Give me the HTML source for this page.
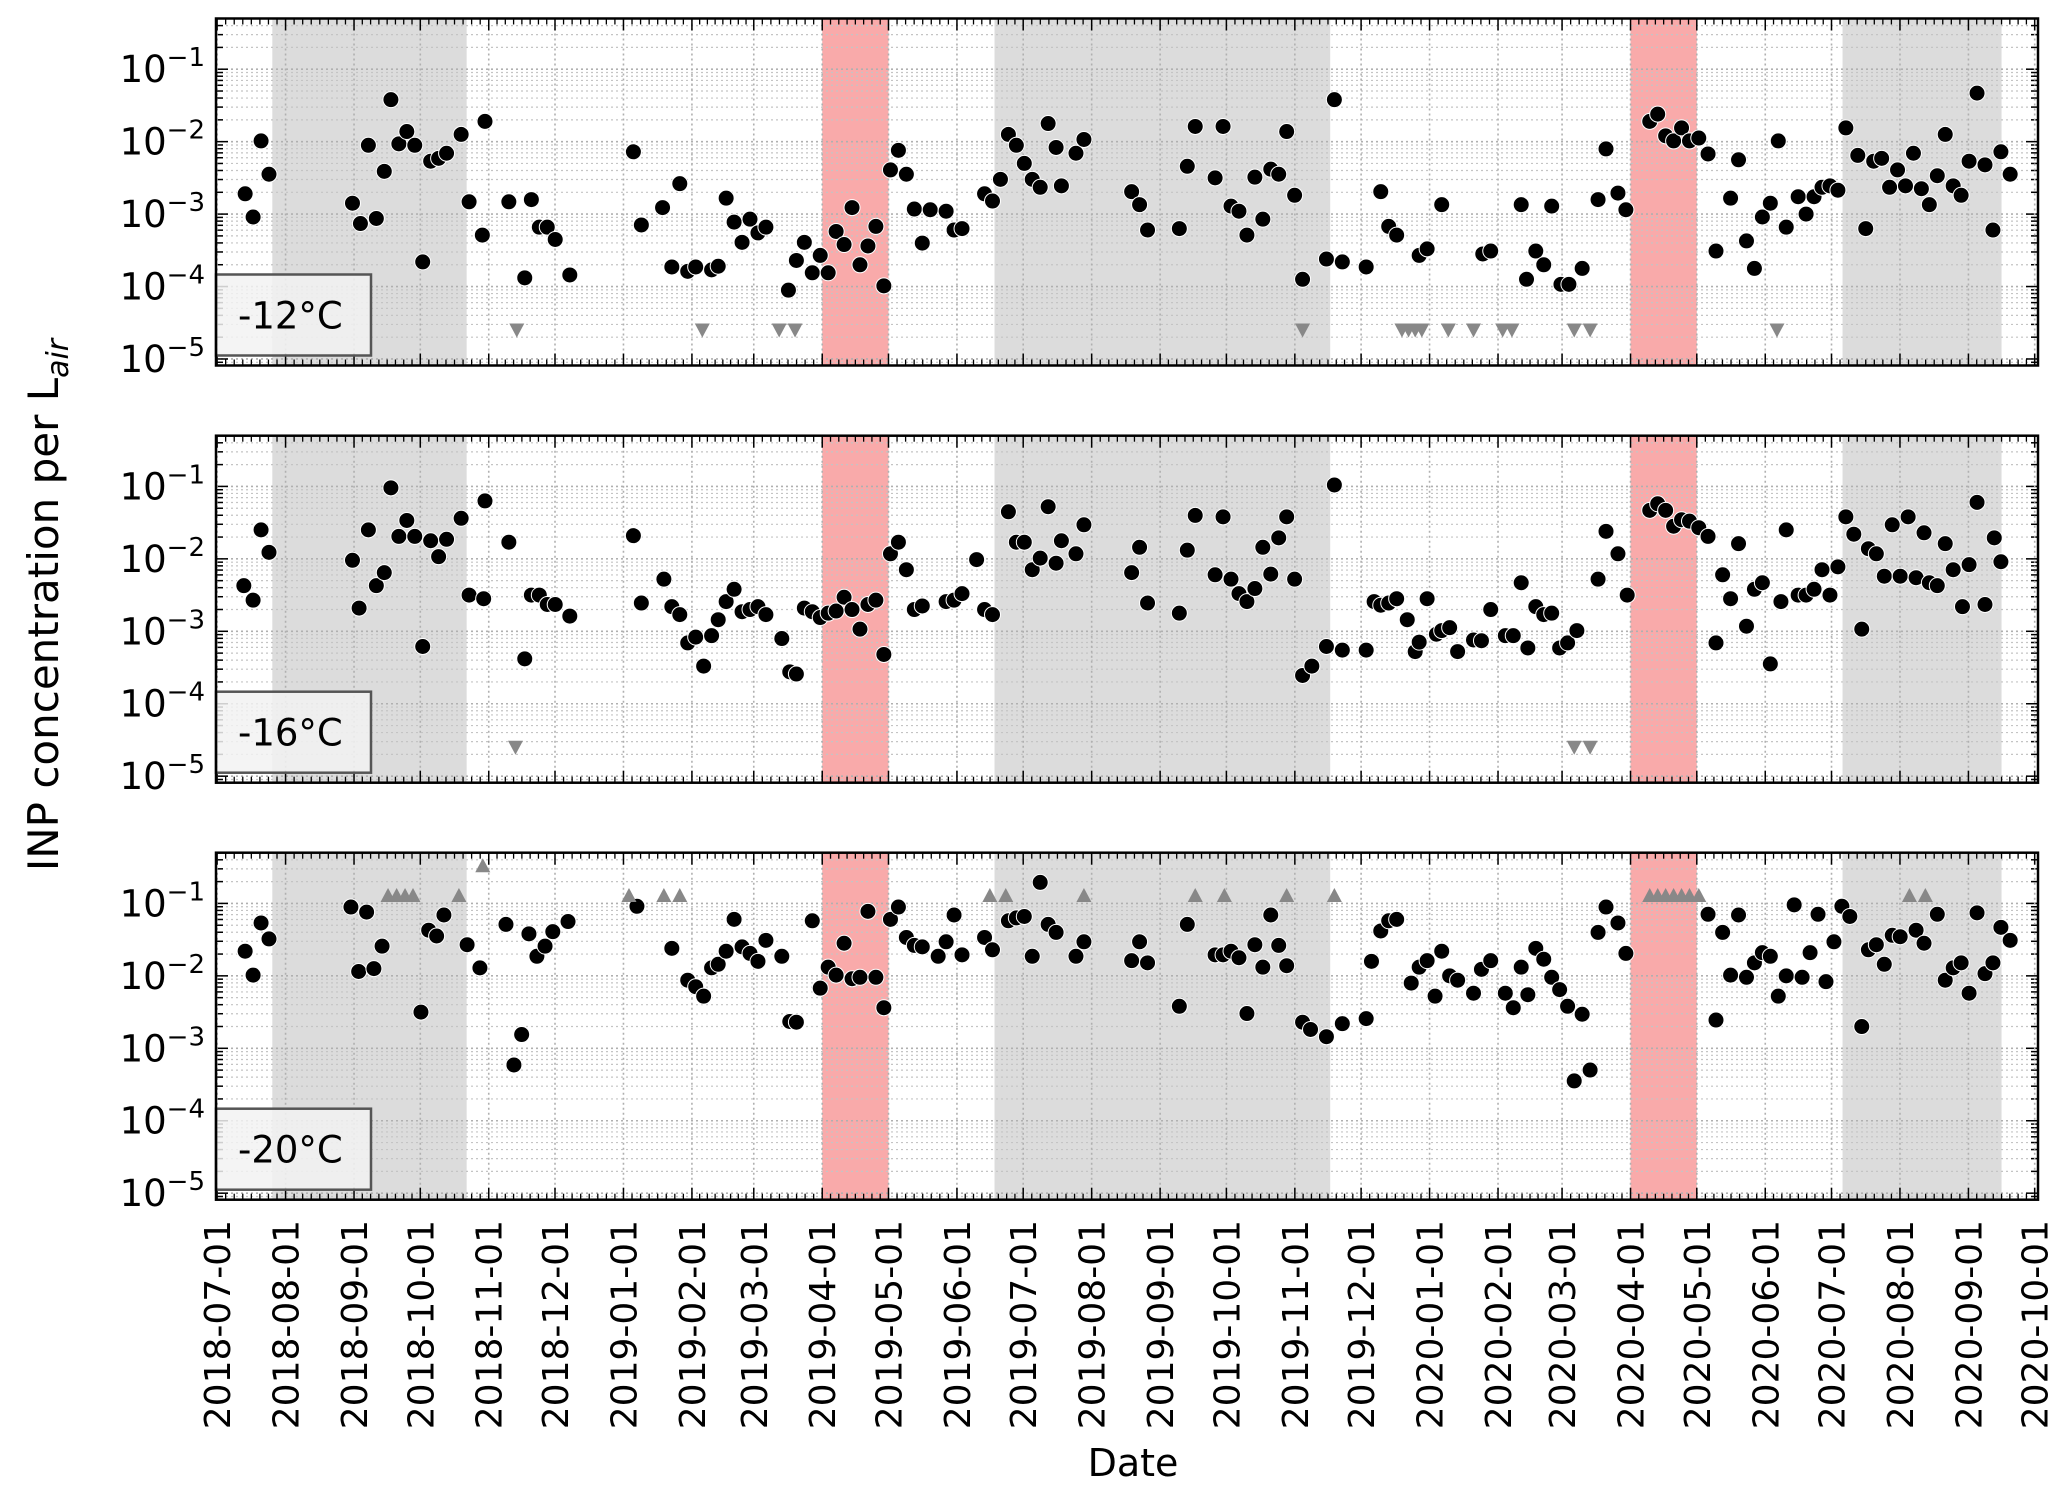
<!DOCTYPE html>
<html><head><meta charset="utf-8"><style>
html,body{margin:0;padding:0;background:#fff;}
svg{display:block;font-family:"DejaVu Sans","Liberation Sans",sans-serif;}
</style></head>
<body>
<svg id="chart" width="2067" height="1496" viewBox="0 0 2067 1496" xmlns="http://www.w3.org/2000/svg">
<text transform="translate(58,605) rotate(-90)" text-anchor="middle" font-size="42" fill="#000">INP concentration per L<tspan font-size="30" font-style="italic" dy="10">air</tspan></text>
<text x="1133" y="1476" text-anchor="middle" font-size="38" fill="#000">Date</text>
</svg>
<script>
// ---- data (days since 2018-07-01, log10 INP concentration per L air) ----
const panelLabels = ["-12°C", "-16°C", "-20°C"];
const shadeGreyStart = ["2018-07-26", "2019-06-18", "2020-07-06"];
const shadeGreyEnd = ["2018-10-22", "2019-11-17", "2020-09-16"];
const shadeRedStart = ["2019-04-01", "2020-04-01"];
const shadeRedEnd = ["2019-05-01", "2020-05-01"];
const yTickExponents = [-1, -2, -3, -4, -5];

const days12 = [12.7,16.3,19.9,23.5,61.3,64.9,68.5,72.1,75.7,78.7,82.3,85.9,89.5,93.1,96.7,100.3,103.9,110.5,114.1,121.3,120.1,132.1,139.3,142.3,145.9,149.5,153.1,159.7,188.5,192.1,201.7,205.9,209.5,213.1,216.7,223.9,226.9,230.5,234.1,237.7,241.3,244.9,248.5,258.7,262.3,265.9,269.5,273.1,276.7,280.3,283.9,287.5,291.1,294.7,298.3,301.9,304.9,308.5,312.1,315.7,319.3,322.9,330.1,333.7,337.3,347.5,351.1,354.7,358.3,361.9,365.5,369.1,372.7,376.3,379.9,382.3,388.9,392.5,414.1,417.7,421.3,435.7,439.3,442.9,451.9,455.5,459.1,462.7,466.3,469.9,473.5,477.1,480.7,484.3,487.9,491.5,502.3,505.9,509.5,520.3,526.9,530.5,534.1,544.3,547.9,554.5,573.1,576.7,590.5,592.9,597.1,600.7,604.3,608.5,612.1,618.1,625.3,628.9,634.3,637.9,648.7,652.3,655.9,659.5,663.1,666.7,670.9,675.1,678.7,685.3,688.9,692.5,696.1,699.7,703.3,706.9,710.5,715.9,719.5,723.1,726.7,730.3,733.9,737.5,742.9,746.5,750.1,753.7,757.3,760.9,764.5,768.1,771.7,775.3,778.9,782.5,786.1,789.7,793.3,796.9,800.5,804.1,807.7,811.9];
const logConc12 = [-2.72,-3.04,-1.99,-2.45,-2.85,-3.13,-2.05,-3.06,-2.41,-1.42,-2.03,-1.86,-2.05,-3.66,-2.27,-2.23,-2.16,-1.90,-2.83,-1.72,-3.29,-2.83,-3.88,-2.80,-3.18,-3.18,-3.35,-3.84,-2.14,-3.15,-2.91,-3.73,-2.58,-3.79,-3.73,-3.77,-3.72,-2.78,-3.11,-3.39,-3.07,-3.26,-3.18,-4.05,-3.64,-3.39,-3.81,-3.57,-3.81,-3.24,-3.42,-2.91,-3.70,-3.44,-3.17,-3.99,-2.39,-2.12,-2.45,-2.93,-3.40,-2.94,-2.96,-3.22,-3.20,-2.72,-2.82,-2.52,-1.90,-2.05,-2.30,-2.52,-2.63,-1.75,-2.08,-2.61,-2.16,-1.97,-2.69,-2.87,-3.22,-3.20,-2.34,-1.79,-2.50,-1.79,-2.89,-2.96,-3.29,-2.49,-3.07,-2.38,-2.45,-1.86,-2.74,-3.90,-3.62,-1.42,-3.66,-3.73,-2.69,-3.17,-3.29,-3.57,-3.48,-2.87,-3.55,-3.51,-2.87,-3.90,-3.51,-3.70,-2.89,-3.97,-3.97,-3.75,-2.80,-2.10,-2.71,-2.94,-1.72,-1.62,-1.92,-1.99,-1.81,-1.99,-1.95,-2.17,-3.51,-2.78,-2.25,-3.37,-3.75,-3.04,-2.85,-1.99,-3.18,-2.76,-3.00,-2.76,-2.63,-2.61,-2.67,-1.81,-2.19,-3.20,-2.27,-2.23,-2.63,-2.39,-2.61,-2.16,-2.65,-2.87,-2.47,-1.90,-2.61,-2.74,-2.27,-1.33,-2.32,-3.22,-2.14,-2.45];
const limDays12 = [135.7,219.7,254.5,261.7,491.5,536.5,539.5,542.5,545.5,557.5,568.9,582.1,586.3,614.5,621.7,706.3];
const limLog12 = -4.6;

const days16 = [12.1,16.3,19.9,23.5,61.3,64.3,68.5,72.1,75.7,78.7,82.3,85.9,89.5,93.1,96.7,100.3,103.9,110.5,114.1,120.7,121.3,132.1,139.3,142.3,145.9,149.5,153.1,159.7,188.5,192.1,202.3,205.9,209.5,213.1,216.7,220.3,223.9,226.9,230.5,234.1,237.7,241.3,244.9,248.5,255.7,259.3,262.3,265.9,269.5,273.1,276.7,280.3,283.9,287.5,291.1,294.7,298.3,301.9,304.9,308.5,312.1,315.7,319.3,330.1,333.7,337.3,343.9,347.5,351.1,358.3,361.9,365.5,369.1,372.7,376.3,379.9,382.3,388.9,392.5,414.1,417.7,421.3,435.7,439.3,442.9,451.9,455.5,459.1,462.7,466.3,469.9,473.5,477.1,480.7,484.3,487.9,491.5,495.7,502.3,505.9,509.5,520.3,523.9,526.9,530.5,534.1,538.9,542.5,544.3,547.9,552.1,554.5,558.1,561.7,568.9,572.5,576.7,583.3,586.9,590.5,593.5,597.1,600.7,604.3,607.9,611.5,615.7,625.3,628.9,634.3,638.5,648.7,652.3,655.9,659.5,663.1,666.7,670.9,675.1,678.7,681.7,685.3,688.9,692.5,696.1,699.7,703.3,708.1,710.5,715.9,719.5,723.1,726.7,730.3,733.9,737.5,741.1,744.7,747.7,751.3,754.9,758.5,762.1,765.7,769.3,772.9,775.3,778.9,782.5,786.1,790.3,793.3,796.9,800.5,804.7,807.7];
const logConc16 = [-2.37,-2.57,-1.60,-1.91,-2.02,-2.68,-1.60,-2.37,-2.19,-1.02,-1.69,-1.47,-1.69,-3.21,-1.75,-1.97,-1.73,-1.44,-2.50,-2.55,-1.20,-1.77,-3.38,-2.50,-2.50,-2.63,-2.63,-2.79,-1.68,-2.61,-2.28,-2.66,-2.77,-3.16,-3.08,-3.48,-3.06,-2.84,-2.59,-2.42,-2.73,-2.70,-2.66,-2.77,-3.10,-3.56,-3.59,-2.68,-2.73,-2.81,-2.75,-2.72,-2.53,-2.70,-2.97,-2.63,-2.57,-3.32,-1.93,-1.77,-2.15,-2.70,-2.65,-2.59,-2.57,-2.48,-2.01,-2.70,-2.77,-1.35,-1.77,-1.77,-2.15,-1.99,-1.28,-2.06,-1.75,-1.93,-1.53,-2.19,-1.84,-2.61,-2.75,-1.88,-1.40,-2.22,-1.42,-2.28,-2.48,-2.59,-2.41,-1.84,-2.21,-1.71,-1.42,-2.28,-3.61,-3.48,-3.21,-0.98,-3.26,-3.26,-2.59,-2.64,-2.61,-2.55,-2.84,-3.28,-3.15,-2.55,-3.04,-2.99,-2.95,-3.28,-3.12,-3.13,-2.70,-3.06,-3.06,-2.33,-3.23,-2.66,-2.77,-2.75,-3.23,-3.16,-2.99,-2.28,-1.62,-1.93,-2.50,-1.33,-1.24,-1.33,-1.55,-1.46,-1.48,-1.57,-1.69,-3.16,-2.22,-2.55,-1.79,-2.93,-2.42,-2.33,-3.45,-2.59,-1.60,-2.50,-2.50,-2.42,-2.15,-2.50,-2.11,-1.42,-1.66,-2.97,-1.86,-1.93,-2.24,-1.53,-2.24,-1.42,-2.26,-1.64,-2.33,-2.37,-1.79,-2.15,-2.66,-2.08,-1.22,-2.63,-1.71,-2.04];
const limDays16 = [135.1,614.5,621.7];
const limLog16 = -4.6;

const days20 = [12.7,16.3,19.9,23.5,60.6,64.1,67.7,71.0,74.7,92.3,95.8,99.4,102.7,113.2,119.0,130.8,134.4,137.9,141.2,144.8,148.5,152.0,158.9,190.1,205.9,213.1,216.7,220.3,223.9,226.9,230.5,234.1,237.7,241.3,244.9,248.5,255.7,259.3,262.3,269.5,273.1,276.7,280.3,283.9,287.5,291.1,294.7,298.3,301.9,304.9,308.5,312.1,315.7,319.3,326.5,330.1,333.7,337.3,347.5,351.1,358.3,361.9,365.5,369.1,372.7,376.3,379.9,388.9,392.5,414.1,417.7,421.3,435.7,439.3,451.9,455.5,459.1,462.7,466.3,469.9,473.5,477.1,480.7,484.3,491.5,495.1,502.3,509.5,520.3,522.7,526.9,530.5,534.1,540.7,544.3,547.9,551.5,554.5,558.1,561.7,568.9,572.5,576.7,583.3,586.9,590.5,593.5,597.1,600.7,604.3,607.9,611.5,614.5,618.1,621.7,625.3,628.9,634.3,637.9,675.1,678.7,681.7,685.3,688.9,692.5,696.1,699.7,703.3,706.9,710.5,714.1,717.7,721.3,724.9,728.5,732.1,735.7,739.3,744.7,747.7,751.3,754.9,758.5,762.1,769.3,772.9,778.9,782.5,786.1,789.7,793.3,796.9,800.5,804.1,807.7,811.9];
const logConc20 = [-1.66,-1.99,-1.27,-1.49,-1.05,-1.94,-1.12,-1.90,-1.59,-2.50,-1.37,-1.45,-1.16,-1.57,-1.89,-1.29,-3.23,-2.81,-1.42,-1.73,-1.59,-1.39,-1.25,-1.04,-1.62,-2.06,-2.15,-2.28,-1.89,-1.84,-1.66,-1.22,-1.60,-1.69,-1.80,-1.51,-1.73,-2.63,-2.64,-1.24,-2.17,-1.88,-1.99,-1.55,-2.04,-2.02,-1.11,-2.02,-2.44,-1.22,-1.05,-1.47,-1.58,-1.60,-1.73,-1.53,-1.16,-1.71,-1.47,-1.64,-1.24,-1.20,-1.18,-1.73,-0.71,-1.29,-1.40,-1.73,-1.53,-1.79,-1.53,-1.82,-2.42,-1.29,-1.71,-1.71,-1.66,-1.75,-2.52,-1.57,-1.88,-1.16,-1.58,-1.86,-2.64,-2.74,-2.84,-2.66,-2.59,-1.80,-1.38,-1.24,-1.22,-2.10,-1.88,-1.79,-2.28,-1.66,-2.00,-2.06,-2.24,-1.91,-1.79,-2.24,-2.44,-1.88,-2.26,-1.62,-1.77,-2.02,-2.19,-2.42,-3.45,-2.53,-3.30,-1.40,-1.05,-1.27,-1.69,-1.15,-2.61,-1.40,-1.99,-1.16,-2.02,-1.82,-1.68,-1.73,-2.28,-2.00,-1.02,-2.02,-1.68,-1.15,-2.08,-1.53,-1.04,-1.18,-2.70,-1.64,-1.57,-1.84,-1.44,-1.46,-1.37,-1.55,-1.15,-2.06,-1.89,-1.82,-2.24,-1.13,-1.97,-1.82,-1.33,-1.51];
const upDays20 = [77.4,81.3,85.1,88.7,109.5,120.3,186.5,202.3,209.5,349.9,357.1,392.5,442.9,456.1,484.3,505.9,648.7,652.3,655.9,659.5,663.1,666.7,670.9,766.3,773.5];
const upLog20 = [-0.89,-0.89,-0.89,-0.89,-0.89,-0.48,-0.89,-0.89,-0.89,-0.89,-0.89,-0.89,-0.89,-0.89,-0.89,-0.89,-0.89,-0.89,-0.89,-0.89,-0.89,-0.89,-0.89,-0.89,-0.89];

// ---- layout ----
const NS = "http://www.w3.org/2000/svg";
const svg = document.getElementById("chart");
const X0 = 216, X1 = 2038;
const DMIN = -0.5, DMAX = 824.5;
const panelTops = [18.5, 435.7, 852.7];
const PH = 347;
const YMIN = -5.09, YMAX = -0.3;
const ORIGIN = Date.UTC(2018, 6, 1);
function dayOf(s) { const p = s.split("-").map(Number); return (Date.UTC(p[0], p[1]-1, p[2]) - ORIGIN) / 86400000; }
function xScale(d) { return X0 + (d - DMIN) / (DMAX - DMIN) * (X1 - X0); }
function yScale(top, e) { return top + (YMAX - e) / (YMAX - YMIN) * PH; }
function mk(tag, attrs, parent) {
  const el = document.createElementNS(NS, tag);
  for (const k in attrs) el.setAttribute(k, attrs[k]);
  (parent || svg).appendChild(el);
  return el;
}
const monthDays = [], monthLabels = [];
for (let i = 0; i <= 27; i++) {
  const y = 2018 + Math.floor((6 + i) / 12), m = (6 + i) % 12;
  monthDays.push((Date.UTC(y, m, 1) - ORIGIN) / 86400000);
  monthLabels.push(y + "-" + String(m + 1).padStart(2, "0") + "-01");
}

const panels = [
  {days: days12, vals: logConc12, lim: limDays12, limV: limLog12, up: [], upV: []},
  {days: days16, vals: logConc16, lim: limDays16, limV: limLog16, up: [], upV: []},
  {days: days20, vals: logConc20, lim: [], limV: 0, up: upDays20, upV: upLog20}
];

panels.forEach((P, pi) => {
  const top = panelTops[pi], bot = top + PH;
  const g = mk("g", {});
  
  
  shadeGreyStart.forEach((s, i) => {
    const xa = xScale(dayOf(s)), xb = xScale(dayOf(shadeGreyEnd[i]));
    const r = mk("rect", {x: xa, y: top, width: xb - xa, height: PH, fill: "#dcdcdc"}, g);
    
    
  });
  shadeRedStart.forEach((s, i) => {
    const xa = xScale(dayOf(s)), xb = xScale(dayOf(shadeRedEnd[i]));
    const r = mk("rect", {x: xa, y: top, width: xb - xa, height: PH, fill: "#f9aaaa"}, g);
    
    
  });
  for (let e = -6; e <= 0; e++) {
    for (let k = 1; k <= 9; k++) {
      const v = e + Math.log10(k);
      if (v < YMIN || v > YMAX) continue;
      const y = yScale(top, v);
      mk("line", {x1: X0, x2: X1, y1: y, y2: y, stroke: k === 1 ? "#b0b0b0" : "#c4c4c4", "stroke-width": k === 1 ? 1.6 : 1.2, "stroke-dasharray": "2,3"}, g);
      mk("line", {x1: X0, x2: X0 + (k === 1 ? 12 : 7), y1: y, y2: y, stroke: "#000", "stroke-width": 1.5}, g);
      mk("line", {x1: X1, x2: X1 - (k === 1 ? 12 : 7), y1: y, y2: y, stroke: "#000", "stroke-width": 1.5}, g);
    }
  }
  monthDays.forEach((d, i) => {
    const x = xScale(d);
    mk("line", {x1: x, x2: x, y1: top, y2: bot, stroke: "#b0b0b0", "stroke-width": 1.6, "stroke-dasharray": "2,3"}, g);
    mk("line", {x1: x, x2: x, y1: bot, y2: bot - 12, stroke: "#000", "stroke-width": 1.5}, g);
    mk("line", {x1: x, x2: x, y1: top, y2: top + 12, stroke: "#000", "stroke-width": 1.5}, g);
    if (i < monthDays.length - 1) {
      const span = monthDays[i + 1] - d;
      for (let k = 1; k < 8; k++) {
        const xm = xScale(d + span * k / 8);
        mk("line", {x1: xm, x2: xm, y1: bot, y2: bot - 6, stroke: "#000", "stroke-width": 1.3}, g);
        mk("line", {x1: xm, x2: xm, y1: top, y2: top + 6, stroke: "#000", "stroke-width": 1.3}, g);
      }
    }
  });
  yTickExponents.forEach(e => {
    const t = mk("text", {x: 205, y: yScale(top, e) + 13, "text-anchor": "end", "font-size": 37, fill: "#000"}, g);
    
    
    t.innerHTML = '10<tspan font-size="26" dy="-16">\u2212' + (-e) + '</tspan>';
  });
  const box = mk("rect", {x: X0, y: bot - 91, width: 155, height: 81, fill: "#f2f2f2", "fill-opacity": 0.85, stroke: "#555", "stroke-width": 2.5}, g);
  
  
  const lt = mk("text", {x: 238, y: bot - 37, "font-size": 37, fill: "#000"}, g);
  
  
  lt.textContent = panelLabels[pi];
  P.days.forEach((d, i) => {
    const c = mk("circle", {cx: xScale(d), cy: yScale(top, P.vals[i]), r: 8, fill: "#000", stroke: "#fff", "stroke-width": 1}, g);
    
    
  });
  P.lim.forEach(d => {
    const x = xScale(d), y = yScale(top, P.limV);
    const t = mk("polygon", {points: (x-7.5)+","+(y-6.5)+" "+(x+7.5)+","+(y-6.5)+" "+x+","+(y+7.5), fill: "#888"}, g);
    
    
  });
  P.up.forEach((d, i) => {
    const x = xScale(d), y = yScale(top, P.upV[i]);
    const t = mk("polygon", {points: (x-7.5)+","+(y+6.5)+" "+(x+7.5)+","+(y+6.5)+" "+x+","+(y-7.5), fill: "#888"}, g);
    
    
  });
  const fr = mk("rect", {x: X0, y: top, width: X1 - X0, height: PH, fill: "none", stroke: "#000", "stroke-width": 2.5}, g);
  
  
});

monthDays.forEach((d, i) => {
  const x = xScale(d) + 13;
  const t = mk("text", {transform: "translate(" + x + ",1220) rotate(-90)", "text-anchor": "end", "font-size": 36, fill: "#000"});
  
  
  t.textContent = monthLabels[i];
});
</script>
</body></html>
